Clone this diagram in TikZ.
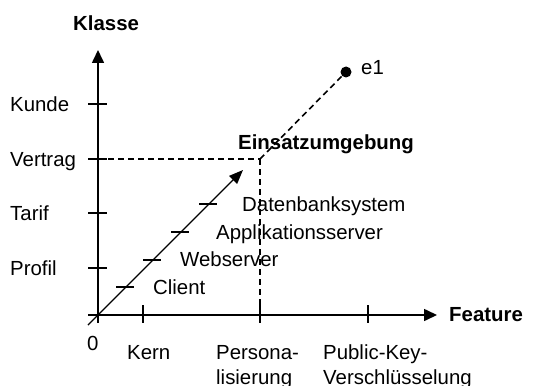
\documentclass[tikz,border=0pt]{standalone}
\usepackage{fontspec}
\setmainfont{Liberation Sans}
\usetikzlibrary{arrows.meta}
\begin{document}
\begin{tikzpicture}[x=1pt,y=-1pt,
  lbl/.style={font=\fontsize{20.4}{25}\selectfont, inner sep=0pt, anchor=base west, align=left},
  boldlbl/.style={lbl, font=\fontsize{20.4}{25}\selectfont\bfseries},
  axisline/.style={line width=1.6pt, -{Triangle[length=13pt,width=12pt]}},
  tickline/.style={line width=1.5pt},
  guide/.style={line width=1.6pt, dash pattern=on 6pt off 4pt},
]
\useasboundingbox (0,0) rectangle (534,385);

% axes
\coordinate (O) at (98,315);
\coordinate (xstart) at (88,315);
\coordinate (xend) at (437,315);
\coordinate (ystart) at (98,323);
\coordinate (yend) at (98,50);
\draw[axisline] (xstart) -- (xend);
\draw[axisline] (ystart) -- (yend);

% class ticks on the vertical axis
\foreach \name/\y in {kunde/104, vertrag/159, tarif/213, profil/268}
  \draw[tickline] (88,\y) coordinate (t\name) -- (107,\y);

% feature ticks on the horizontal axis
\foreach \name/\x in {kern/143, pers/260, pk/368}
  \draw[tickline] (\x,305) -- (\x,323) coordinate (t\name);

% environment corner and dashed guides
\coordinate (corner) at (260,159);
\coordinate (cornerfoot) at (260,315);
\draw[guide] (tvertrag) -- (corner);
\draw[guide] (corner) -- (cornerfoot);

% diagonal axis of environments
\coordinate (dstart) at (88,325);
\coordinate (dend) at (243,170);
\draw[line width=1.4pt, -{Triangle[length=14pt,width=11pt]}] (dstart) -- (dend);
\foreach \d in {28,55,83,111}
  \draw[tickline] (98+\d-10,315-\d) -- (98+\d+8,315-\d);

% point e1
\node[circle, fill, inner sep=0pt, minimum size=11pt] (e1dot) at (346,72) {};
\draw[guide] (corner) -- (e1dot);
\node[lbl] (e1) at (361,75) {e1};

% axis titles
\node[boldlbl] (klasse) at (73,30.5) {Klasse};
\node[boldlbl] (feature) at (449,321.5) {Feature};
\node[boldlbl] (einsatz) at (238,149.5) {Einsatzumgebung};

% class labels
\node[lbl] (kunde) at (10,111.5) {Kunde};
\node[lbl] (vertrag) at (10,166.5) {Vertrag};
\node[lbl] (tarif) at (10,220.5) {Tarif};
\node[lbl] (profil) at (10,275.5) {Profil};

% environment labels
\node[lbl] (client) at (153,294.5) {Client};
\node[lbl] (webserver) at (180,266.5) {Webserver};
\node[lbl] (appserver) at (216,239.5) {Applikationsserver};
\node[lbl] (dbsystem) at (242,211.5) {Datenbanksystem};

% feature labels (two-line labels are anchored at their last baseline)
\node[lbl] (zero) at (87,350.5) {0};
\node[lbl] (kern) at (127,359.5) {Kern};
\node[lbl] (pers) at (216,384.5) {Persona-\\lisierung};
\node[lbl] (pk) at (323,384.5) {Public-Key-\\Verschlüsselung};
\end{tikzpicture}
\end{document}
